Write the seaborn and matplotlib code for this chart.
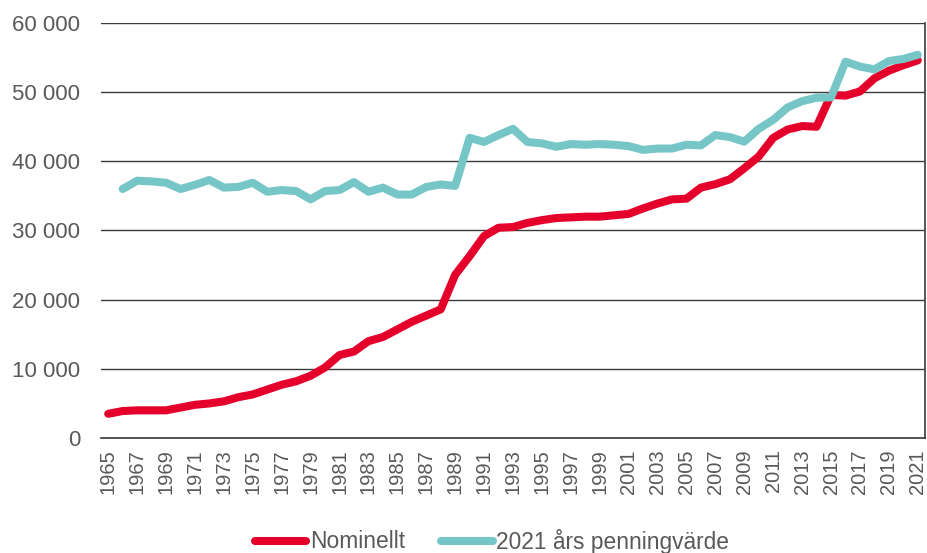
import matplotlib
matplotlib.use("Agg")
import matplotlib.pyplot as plt
import matplotlib.ticker as mticker
import numpy as np
import pandas as pd
import seaborn as sns

years = list(range(1965, 2022))

nominellt = [
    3500, 3900, 4000, 4000, 4000, 4400, 4800, 5000, 5300, 5900,
    6300, 7000, 7700, 8200, 9000, 10200, 12000, 12500, 14000, 14600,
    15700, 16800, 17700, 18600, 23600, 26300, 29200, 30400, 30500, 31100,
    31500, 31800, 31900, 32000, 32000, 32200, 32400, 33200, 33900, 34500,
    34600, 36200, 36700, 37400, 39000, 40700, 43400, 44600, 45100, 45000,
    49600, 49500, 50100, 52000, 53100, 53900, 54600,
]

# series starts in 1966
penningvarde_2021 = [
    np.nan,
    36000, 37200, 37100, 36900, 36000, 36600, 37300, 36200, 36300, 36900,
    35600, 35850, 35700, 34500, 35700, 35850, 37000, 35600, 36200, 35200,
    35200, 36300, 36650, 36450, 43400, 42800, 43800, 44700, 42800, 42600,
    42100, 42500, 42400, 42500, 42400, 42200, 41650, 41850, 41850, 42400,
    42300, 43800, 43500, 42850, 44700, 46000, 47800, 48700, 49200, 49250,
    54400, 53700, 53300, 54500, 54800, 55400,
]

series_names = ["Nominellt", "2021 års penningvärde"]
colors = ["#E4002B", "#77C6C7"]
year_labels = [str(y) if (y - 1965) % 2 == 0 else "" for y in years]

df = pd.DataFrame({
    "år": years * 2,
    "värde": nominellt + penningvarde_2021,
    "serie": [series_names[0]] * len(years) + [series_names[1]] * len(years),
})

sns.set_theme(style="white")
plt.rcParams["font.family"] = ["Liberation Sans", "DejaVu Sans"]
text_color = "#595959"
grid_color = "#3a3a3a"

fig = plt.figure(figsize=(9.27, 5.53), dpi=100)
ax = fig.add_axes([101 / 927, 1 - 438 / 553, 824 / 927, 415 / 553])

sns.lineplot(
    data=df, x="år", y="värde", hue="serie", hue_order=series_names,
    palette=colors, linewidth=5.8, ax=ax, legend=True,
)
for line in ax.get_lines():
    line.set_solid_capstyle("round")
    line.set_solid_joinstyle("round")

ax.set_xlim(1964.5, 2021.5)
ax.set_ylim(0, 60000)
ax.set_yticks(np.arange(0, 60001, 10000))
ax.yaxis.set_major_formatter(
    mticker.FuncFormatter(lambda v, p: f"{int(v):,}".replace(",", " "))
)
ax.set_xticks(years)
ax.set_xticklabels(year_labels, rotation=90)

ax.grid(axis="y", color=grid_color, linewidth=1.0)
ax.set_axisbelow(True)
for side in ["left", "top"]:
    ax.spines[side].set_visible(False)
for side in ["right", "bottom"]:
    ax.spines[side].set_color(grid_color)
    ax.spines[side].set_linewidth(1.2)

ax.tick_params(axis="y", length=0, pad=15, labelsize=16, labelcolor=text_color)
ax.tick_params(axis="x", length=0, pad=8, labelsize=14.5, labelcolor=text_color)
ax.set_xlabel("")
ax.set_ylabel("")

handles, labels = ax.get_legend_handles_labels()
for h in handles:
    h.set_solid_capstyle("round")
leg = fig.legend(
    handles, labels, loc="center", bbox_to_anchor=(492 / 927, 1 - 541 / 553),
    ncol=2, frameon=False, fontsize=16.4, handlelength=2.25,
    handletextpad=0.15, columnspacing=1.6, borderpad=0, borderaxespad=0,
)
ax.get_legend().remove()
for t in leg.get_texts():
    t.set_color(text_color)

fig.savefig("out.png", dpi=100)
